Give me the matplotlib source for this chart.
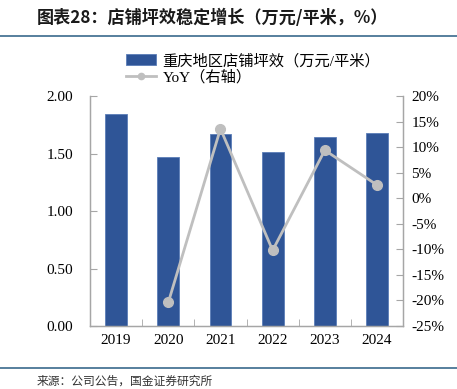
import matplotlib.pyplot as plt
import numpy as np

plt.rcParams['font.family'] = ['Liberation Serif', 'Noto Sans CJK SC']

years = ['2019', '2020', '2021', '2022', '2023', '2024']
sales_eff = [1.84, 1.47, 1.67, 1.51, 1.64, 1.68]
yoy_years = ['2020', '2021', '2022', '2023', '2024']
yoy = [-20.4, 13.6, -10.2, 9.4, 2.6]

bar_color = '#2F5597'
line_color = '#BFBFBF'
spine_color = '#A6A6A6'

fig = plt.figure(figsize=(4.57, 3.89), dpi=100)
ax = fig.add_axes([0.197, 0.162, 0.685, 0.591])
ax2 = ax.twinx()

x = np.arange(len(years))
bars = ax.bar(x, sales_eff, width=0.42, color=bar_color, edgecolor='#5B7DB8',
              linewidth=0.6, zorder=2)
xi = [years.index(y) for y in yoy_years]
ln, = ax2.plot(xi, yoy, color=line_color, lw=2, marker='o', ms=7, zorder=3)

ax.set_xlim(-0.5, len(years) - 0.5)
ax.set_ylim(0, 2.0)
ax.set_yticks(np.arange(0, 2.01, 0.5))
ax.set_yticklabels([f'{v:.2f}' for v in np.arange(0, 2.01, 0.5)])
ax.set_xticks(x)
ax.set_xticklabels(years)
ax.set_xticks(np.arange(0.5, len(years) - 0.5, 1), minor=True)
ax.tick_params(axis='x', which='major', length=0, labelsize=11, pad=6)
ax.tick_params(axis='x', which='minor', length=5, direction='in', color=spine_color)
ax.tick_params(axis='y', length=5, direction='in', color=spine_color, labelsize=11, pad=12)

ax2.set_ylim(-25, 20)
ax2.set_yticks(np.arange(-25, 21, 5))
ax2.set_yticklabels([f'{v}%' for v in range(-25, 21, 5)])
ax2.tick_params(axis='y', length=5, direction='in', color=spine_color, labelsize=11, pad=6)

for a in (ax, ax2):
    a.spines['top'].set_visible(False)
    for s in ('left', 'right', 'bottom'):
        a.spines[s].set_color(spine_color)
        a.spines[s].set_linewidth(0.9)

ax.set_zorder(ax2.get_zorder() - 1)
ax.patch.set_visible(False)

# legend handle with a smaller marker than the plotted line
leg_line = plt.Line2D([], [], color=line_color, lw=2, marker='o', ms=4.5)
fig.legend([bars, leg_line], ['重庆地区店铺坪效（万元/平米）', 'YoY（右轴）'],
           loc='upper left', bbox_to_anchor=(0.262, 0.878), frameon=False,
           fontsize=11, handlelength=2.0, handletextpad=0.4, labelspacing=0.1,
           borderaxespad=0)

fig.text(0.08, 0.955, '图表28：店铺坪效稳定增长（万元/平米，%）', fontsize=12.3,
         fontweight='semibold', style='italic', family=['Noto Sans CJK SC'],
         va='center', ha='left', color='#1a1a1a')
fig.add_artist(plt.Line2D([0, 1], [0.907, 0.907], color='#3A6A8C', lw=1.2))
fig.add_artist(plt.Line2D([0, 1], [0.054, 0.054], color='#3A6A8C', lw=1.2))
fig.text(0.08, 0.02, '来源：公司公告，国金证券研究所', fontsize=8.5,
         family=['Noto Sans CJK SC'], va='center', ha='left', color='#333333')

fig.savefig('out.png', dpi=100)
